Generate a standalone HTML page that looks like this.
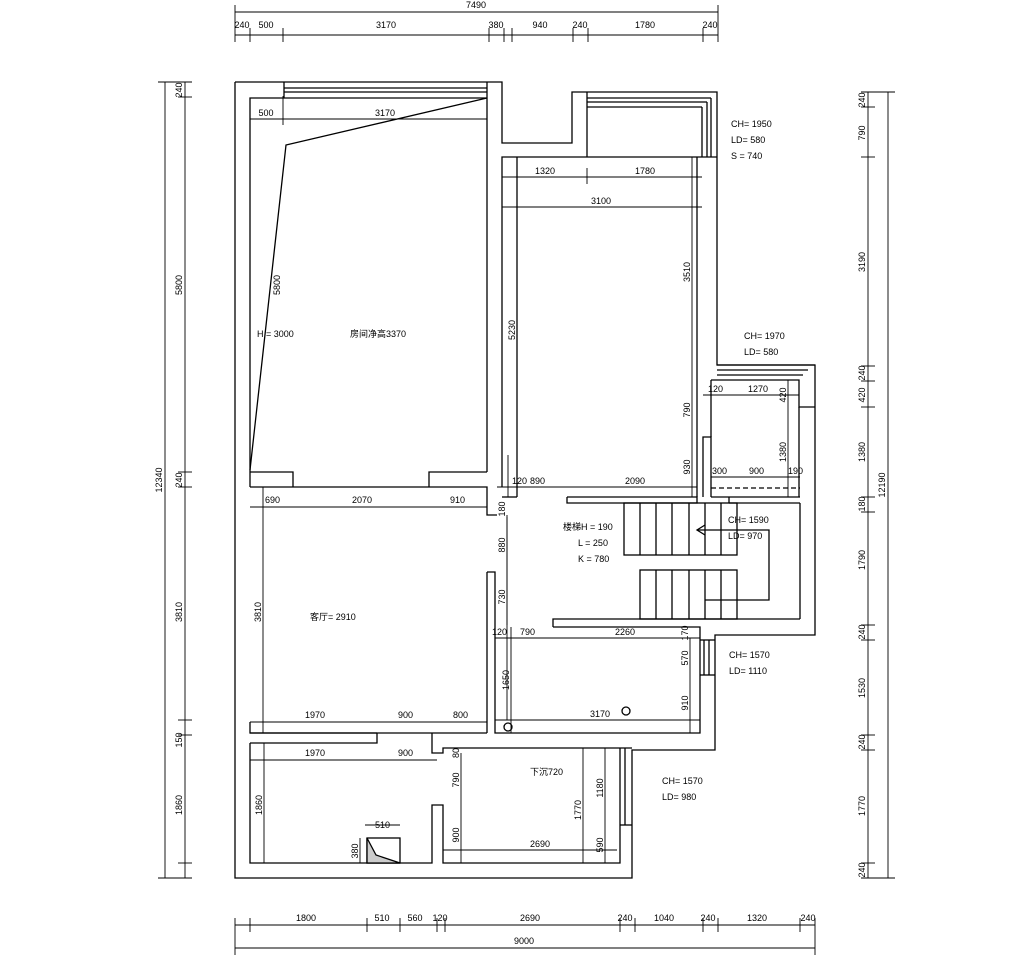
<!DOCTYPE html>
<html><head><meta charset="utf-8"><style>
html,body{margin:0;padding:0;background:#fff}
svg{display:block}
text{font-family:"Liberation Sans Narrow","Liberation Sans","Noto Sans CJK SC",sans-serif;font-size:9px;fill:#000}
</style></head><body>
<svg width="1014" height="955" viewBox="0 0 1014 955" xmlns="http://www.w3.org/2000/svg">
<g stroke="#000" stroke-width="1.3" fill="none">
<!-- outer wall -->
<polyline points="235,82 502,82 502,143 572,143 572,92 717,92 717,365 815,365 815,635 715,635 715,750 632,750 632,878 235,878 235,82"/>
<!-- top left room -->
<polyline points="250,487 250,98 487,98"/>
<line x1="284" y1="82" x2="284" y2="98"/>
<line x1="487" y1="82" x2="487" y2="472"/>
<line x1="284" y1="88" x2="487" y2="88"/>
<line x1="284" y1="92" x2="487" y2="92"/>
<polyline points="487,98 286,145 250,470"/>
<polyline points="250,472 293,472 293,487"/>
<polyline points="429,487 429,472 487,472"/>
<polyline points="250,487 487,487 487,515 497,515"/>
<!-- top right room -->
<polyline points="502,487 502,157 717,157"/>
<line x1="587" y1="92" x2="587" y2="157"/>
<line x1="587" y1="98" x2="711" y2="98"/>
<line x1="587" y1="102" x2="707" y2="102"/>
<line x1="587" y1="107" x2="702" y2="107"/>
<line x1="711" y1="98" x2="711" y2="157"/>
<line x1="707" y1="102" x2="707" y2="157"/>
<line x1="702" y1="107" x2="702" y2="157"/>
<polyline points="517,497 517,157"/>
<polyline points="697,157 697,497"/>
<polyline points="502,497 517,497"/>
<polyline points="567,497 697,497 697,503 567,503 567,497"/>
<polyline points="703,497 703,437 711,437 711,497"/>
<!-- small room right -->
<polyline points="717,365 815,365"/>
<line x1="717" y1="370" x2="808" y2="370"/>
<line x1="717" y1="375" x2="803" y2="375"/>
<polyline points="711,380 799,380 799,407 815,407"/>
<line x1="711" y1="380" x2="711" y2="437"/>
<line x1="711" y1="497" x2="800" y2="497"/>
<line x1="729" y1="497" x2="729" y2="503"/>
<line x1="729" y1="503" x2="800" y2="503"/>
<line x1="799" y1="407" x2="799" y2="497"/>
<line x1="711" y1="488" x2="800" y2="488" stroke-dasharray="5,3"/>
<!-- stairs -->
<rect x="624" y="503" width="113" height="52"/>
<line x1="640" y1="503" x2="640" y2="555"/><line x1="656" y1="503" x2="656" y2="555"/><line x1="672" y1="503" x2="672" y2="555"/><line x1="689" y1="503" x2="689" y2="555"/><line x1="705" y1="503" x2="705" y2="555"/><line x1="721" y1="503" x2="721" y2="555"/>
<rect x="640" y="570" width="97" height="49"/>
<line x1="656" y1="570" x2="656" y2="619"/><line x1="672" y1="570" x2="672" y2="619"/><line x1="689" y1="570" x2="689" y2="619"/><line x1="705" y1="570" x2="705" y2="619"/><line x1="721" y1="570" x2="721" y2="619"/>
<polyline points="697,530 769,530 769,600 705,600"/>
<polyline points="705,525 697,530 705,535"/>
<line x1="800" y1="503" x2="800" y2="619"/>
<polyline points="553,627 553,619 800,619"/>
<!-- kitchen -->
<polyline points="487,572 495,572 495,733 700,733 700,627 553,627"/>
<line x1="487" y1="572" x2="487" y2="733"/>
<line x1="700" y1="640" x2="715" y2="640"/>
<line x1="704" y1="640" x2="704" y2="675"/><line x1="709" y1="640" x2="709" y2="675"/><line x1="715" y1="675" x2="700" y2="675"/>
<circle cx="626" cy="711" r="4"/>
<circle cx="508" cy="727" r="4"/>
<!-- living room bottom wall -->
<polyline points="250,722 250,733 487,733"/>
<polyline points="250,743 377,743 377,733"/>
<line x1="250" y1="733" x2="377" y2="733"/>
<polyline points="432,733 432,753 443,753 443,748 632,748"/>
<!-- bottom rooms -->
<polyline points="250,743 250,863 432,863 432,805 443,805 443,863 620,863 620,748"/>
<line x1="625" y1="748" x2="625" y2="825"/><line x1="620" y1="825" x2="632" y2="825"/>
<rect x="367" y="838" width="33" height="25"/>
<polygon points="367,838 367,863 400,863 376,855" fill="#ccc"/>
</g>
<!-- dimension lines -->
<g stroke="#000" stroke-width="0.9" fill="none">
<line x1="235" y1="12" x2="718" y2="12"/><line x1="235" y1="35" x2="718" y2="35"/>
<line x1="235" y1="5" x2="235" y2="42"/><line x1="250" y1="28" x2="250" y2="42"/><line x1="283" y1="28" x2="283" y2="42"/><line x1="489" y1="28" x2="489" y2="42"/><line x1="504" y1="28" x2="504" y2="42"/><line x1="512" y1="28" x2="512" y2="42"/><line x1="573" y1="28" x2="573" y2="42"/><line x1="588" y1="28" x2="588" y2="42"/><line x1="703" y1="28" x2="703" y2="42"/><line x1="718" y1="5" x2="718" y2="42"/>
<line x1="165" y1="82" x2="165" y2="878"/><line x1="185" y1="82" x2="185" y2="878"/>
<line x1="158" y1="82" x2="192" y2="82"/><line x1="178" y1="97" x2="192" y2="97"/><line x1="178" y1="472" x2="192" y2="472"/><line x1="178" y1="487" x2="192" y2="487"/><line x1="178" y1="720" x2="192" y2="720"/><line x1="178" y1="735" x2="192" y2="735"/><line x1="178" y1="863" x2="192" y2="863"/><line x1="158" y1="878" x2="192" y2="878"/>
<line x1="868" y1="92" x2="868" y2="878"/><line x1="888" y1="92" x2="888" y2="878"/>
<line x1="861" y1="92" x2="895" y2="92"/><line x1="861" y1="107" x2="875" y2="107"/><line x1="861" y1="157" x2="875" y2="157"/><line x1="861" y1="366" x2="875" y2="366"/><line x1="861" y1="381" x2="875" y2="381"/><line x1="861" y1="407" x2="875" y2="407"/><line x1="861" y1="497" x2="875" y2="497"/><line x1="861" y1="512" x2="875" y2="512"/><line x1="861" y1="625" x2="875" y2="625"/><line x1="861" y1="640" x2="875" y2="640"/><line x1="861" y1="735" x2="875" y2="735"/><line x1="861" y1="750" x2="875" y2="750"/><line x1="861" y1="863" x2="875" y2="863"/><line x1="861" y1="878" x2="895" y2="878"/>
<line x1="235" y1="925" x2="815" y2="925"/><line x1="235" y1="948" x2="815" y2="948"/>
<line x1="235" y1="918" x2="235" y2="955"/><line x1="250" y1="918" x2="250" y2="932"/><line x1="367" y1="918" x2="367" y2="932"/><line x1="400" y1="918" x2="400" y2="932"/><line x1="437" y1="918" x2="437" y2="932"/><line x1="445" y1="918" x2="445" y2="932"/><line x1="620" y1="918" x2="620" y2="932"/><line x1="635" y1="918" x2="635" y2="932"/><line x1="703" y1="918" x2="703" y2="932"/><line x1="718" y1="918" x2="718" y2="932"/><line x1="800" y1="918" x2="800" y2="932"/><line x1="815" y1="918" x2="815" y2="955"/>
<!-- inner dims -->
<line x1="250" y1="119" x2="487" y2="119"/><line x1="283" y1="96" x2="283" y2="125"/>
<line x1="502" y1="177" x2="702" y2="177"/><line x1="587" y1="168" x2="587" y2="184"/><line x1="517" y1="157" x2="517" y2="497"/>
<line x1="502" y1="207" x2="702" y2="207"/><line x1="692" y1="157" x2="692" y2="497"/>
<line x1="497" y1="487" x2="697" y2="487"/><line x1="508" y1="455" x2="508" y2="497"/>
<line x1="507" y1="515" x2="507" y2="720"/><line x1="507" y1="517" x2="507" y2="625"/>
<line x1="495" y1="638" x2="700" y2="638"/><line x1="511" y1="627" x2="511" y2="733"/>
<line x1="690" y1="638" x2="690" y2="733"/><line x1="495" y1="720" x2="700" y2="720"/>
<line x1="250" y1="507" x2="487" y2="507"/><line x1="263" y1="487" x2="263" y2="733"/>
<line x1="250" y1="722" x2="487" y2="722"/>
<line x1="250" y1="760" x2="437" y2="760"/><line x1="264" y1="743" x2="264" y2="863"/>
<line x1="461" y1="753" x2="461" y2="863"/><line x1="443" y1="850" x2="617" y2="850"/>
<line x1="583" y1="748" x2="583" y2="863"/><line x1="605" y1="748" x2="605" y2="863"/>
<line x1="703" y1="395" x2="799" y2="395"/><line x1="788" y1="380" x2="788" y2="497"/>
<line x1="711" y1="477" x2="800" y2="477"/>
<line x1="365" y1="825" x2="400" y2="825"/><line x1="360" y1="838" x2="360" y2="863"/>
</g>
<!-- text -->
<text x="476" y="8" text-anchor="middle">7490</text>
<text x="242" y="28" text-anchor="middle">240</text><text x="266" y="28" text-anchor="middle">500</text><text x="386" y="28" text-anchor="middle">3170</text><text x="496" y="28" text-anchor="middle">380</text><text x="540" y="28" text-anchor="middle">940</text><text x="580" y="28" text-anchor="middle">240</text><text x="645" y="28" text-anchor="middle">1780</text><text x="710" y="28" text-anchor="middle">240</text>
<text x="266" y="116" text-anchor="middle">500</text><text x="385" y="116" text-anchor="middle">3170</text>
<text x="545" y="174" text-anchor="middle">1320</text><text x="645" y="174" text-anchor="middle">1780</text><text x="601" y="204" text-anchor="middle">3100</text>
<text x="257" y="337">H = 3000</text><text x="350" y="337">房间净高3370</text>
<text x="512" y="484">120</text><text x="530" y="484">890</text><text x="625" y="484">2090</text>
<text x="563" y="530">楼梯H = 190</text><text x="578" y="546">L = 250</text><text x="578" y="562">K = 780</text>
<text x="728" y="523">CH= 1590</text><text x="728" y="539">LD= 970</text>
<text x="731" y="127">CH= 1950</text><text x="731" y="143">LD= 580</text><text x="731" y="159">S  = 740</text>
<text x="744" y="339">CH= 1970</text><text x="744" y="355">LD= 580</text>
<text x="708" y="392">120</text><text x="748" y="392">1270</text>
<text x="712" y="474">300</text><text x="749" y="474">900</text><text x="788" y="474">190</text>
<text x="729" y="658">CH= 1570</text><text x="729" y="674">LD= 1110</text>
<text x="662" y="784">CH= 1570</text><text x="662" y="800">LD= 980</text>
<text x="265" y="503">690</text><text x="352" y="503">2070</text><text x="450" y="503">910</text>
<text x="310" y="620">客厅= 2910</text>
<text x="492" y="635">120</text><text x="520" y="635">790</text><text x="615" y="635">2260</text>
<text x="600" y="717" text-anchor="middle">3170</text>
<text x="305" y="718">1970</text><text x="398" y="718">900</text><text x="453" y="718">800</text>
<text x="305" y="756">1970</text><text x="398" y="756">900</text>
<text x="530" y="775">下沉720</text>
<text x="530" y="847">2690</text><text x="375" y="828">510</text>
<text x="306" y="921" text-anchor="middle">1800</text><text x="382" y="921" text-anchor="middle">510</text><text x="415" y="921" text-anchor="middle">560</text><text x="440" y="921" text-anchor="middle">120</text><text x="530" y="921" text-anchor="middle">2690</text><text x="625" y="921" text-anchor="middle">240</text><text x="664" y="921" text-anchor="middle">1040</text><text x="708" y="921" text-anchor="middle">240</text><text x="757" y="921" text-anchor="middle">1320</text><text x="808" y="921" text-anchor="middle">240</text>
<text x="524" y="944" text-anchor="middle">9000</text>
<!-- rotated labels -->
<g>
<text transform="translate(162,480) rotate(-90)" text-anchor="middle">12340</text>
<text transform="translate(182,90) rotate(-90)" text-anchor="middle">240</text>
<text transform="translate(182,285) rotate(-90)" text-anchor="middle">5800</text>
<text transform="translate(182,480) rotate(-90)" text-anchor="middle">240</text>
<text transform="translate(182,612) rotate(-90)" text-anchor="middle">3810</text>
<text transform="translate(182,740) rotate(-90)" text-anchor="middle">150</text>
<text transform="translate(182,805) rotate(-90)" text-anchor="middle">1860</text>
<text transform="translate(865,100) rotate(-90)" text-anchor="middle">240</text>
<text transform="translate(865,133) rotate(-90)" text-anchor="middle">790</text>
<text transform="translate(865,262) rotate(-90)" text-anchor="middle">3190</text>
<text transform="translate(865,373) rotate(-90)" text-anchor="middle">240</text>
<text transform="translate(865,395) rotate(-90)" text-anchor="middle">420</text>
<text transform="translate(865,452) rotate(-90)" text-anchor="middle">1380</text>
<text transform="translate(865,504) rotate(-90)" text-anchor="middle">180</text>
<text transform="translate(865,560) rotate(-90)" text-anchor="middle">1790</text>
<text transform="translate(865,632) rotate(-90)" text-anchor="middle">240</text>
<text transform="translate(865,688) rotate(-90)" text-anchor="middle">1530</text>
<text transform="translate(865,742) rotate(-90)" text-anchor="middle">240</text>
<text transform="translate(865,806) rotate(-90)" text-anchor="middle">1770</text>
<text transform="translate(865,870) rotate(-90)" text-anchor="middle">240</text>
<text transform="translate(885,485) rotate(-90)" text-anchor="middle">12190</text>
<text transform="translate(280,285) rotate(-90)" text-anchor="middle">5800</text>
<text transform="translate(515,330) rotate(-90)" text-anchor="middle">5230</text>
<text transform="translate(690,272) rotate(-90)" text-anchor="middle">3510</text>
<text transform="translate(690,410) rotate(-90)" text-anchor="middle">790</text>
<text transform="translate(690,467) rotate(-90)" text-anchor="middle">930</text>
<text transform="translate(786,395) rotate(-90)" text-anchor="middle">420</text>
<text transform="translate(786,452) rotate(-90)" text-anchor="middle">1380</text>
<text transform="translate(505,509) rotate(-90)" text-anchor="middle">180</text>
<text transform="translate(505,545) rotate(-90)" text-anchor="middle">880</text>
<text transform="translate(505,597) rotate(-90)" text-anchor="middle">730</text>
<text transform="translate(509,680) rotate(-90)" text-anchor="middle">1650</text>
<text transform="translate(688,633) rotate(-90)" text-anchor="middle">170</text>
<text transform="translate(688,658) rotate(-90)" text-anchor="middle">570</text>
<text transform="translate(688,703) rotate(-90)" text-anchor="middle">910</text>
<text transform="translate(261,612) rotate(-90)" text-anchor="middle">3810</text>
<text transform="translate(262,805) rotate(-90)" text-anchor="middle">1860</text>
<text transform="translate(459,753) rotate(-90)" text-anchor="middle">80</text>
<text transform="translate(459,780) rotate(-90)" text-anchor="middle">790</text>
<text transform="translate(459,835) rotate(-90)" text-anchor="middle">900</text>
<text transform="translate(581,810) rotate(-90)" text-anchor="middle">1770</text>
<text transform="translate(603,788) rotate(-90)" text-anchor="middle">1180</text>
<text transform="translate(603,845) rotate(-90)" text-anchor="middle">590</text>
<text transform="translate(358,851) rotate(-90)" text-anchor="middle">380</text>
</g>
</svg>
</body></html>
